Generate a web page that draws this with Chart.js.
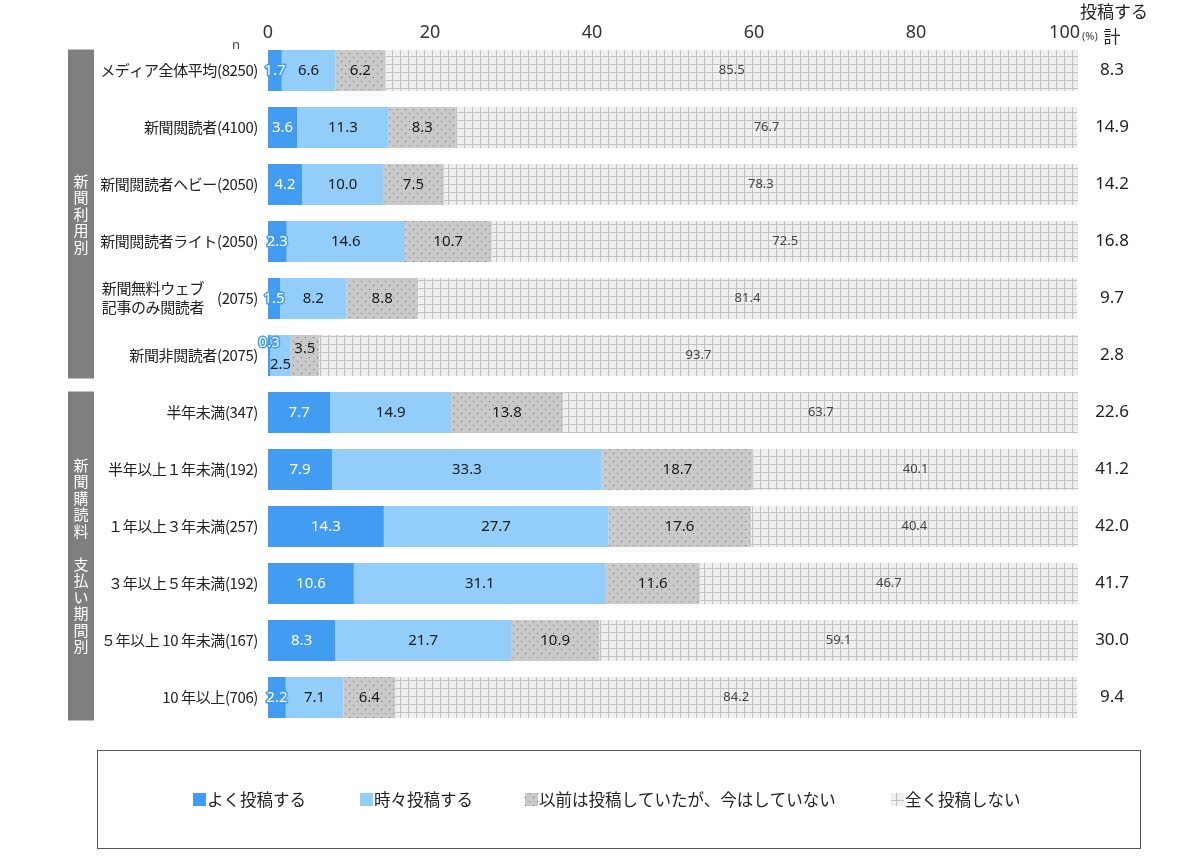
<!DOCTYPE html>
<html lang="ja">
<head>
<meta charset="UTF-8">
<title>投稿頻度</title>
<script src="https://cdn.jsdelivr.net/npm/chart.js@4.4.1/dist/chart.umd.min.js"></script>
<style>
  body { margin: 0; background: #fff; }
</style>
</head>
<body>
<canvas id="chart" width="1200" height="865"></canvas>
<script>
// rows (top to bottom)
const rowLabels = [
  'メディア全体平均', '新聞閲読者', '新聞閲読者ヘビー', '新聞閲読者ライト',
  ['新聞無料ウェブ', '記事のみ閲読者'], '新聞非閲読者',
  '半年未満', '半年以上１年未満', '１年以上３年未満', '３年以上５年未満',
  '５年以上 10 年未満', '10 年以上'
];
const rowN = [8250, 4100, 2050, 2050, 2075, 2075, 347, 192, 257, 192, 167, 706];

// series values (%)
const often     = [1.7, 3.6, 4.2, 2.3, 1.5, 0.3, 7.7, 7.9, 14.3, 10.6, 8.3, 2.2];
const sometimes = [6.6, 11.3, 10.0, 14.6, 8.2, 2.5, 14.9, 33.3, 27.7, 31.1, 21.7, 7.1];
const formerly  = [6.2, 8.3, 7.5, 10.7, 8.8, 3.5, 13.8, 18.7, 17.6, 11.6, 10.9, 6.4];
const never     = [85.5, 76.7, 78.3, 72.5, 81.4, 93.7, 63.7, 40.1, 40.4, 46.7, 59.1, 84.2];
const postTotal = ['8.3', '14.9', '14.2', '16.8', '9.7', '2.8', '22.6', '41.2', '42.0', '41.7', '30.0', '9.4'];

const seriesNames = ['よく投稿する', '時々投稿する', '以前は投稿していたが、今はしていない', '全く投稿しない'];
const xTicks = [0, 20, 40, 60, 80, 100];

// row groups for the grey side bars
const groupNames = ['新聞利用別', '新聞購読料　支払い期間別'];
const groupFirst = [0, 6];
const groupLast = [5, 11];

const JP = '"Noto Sans CJK JP", "Noto Sans", sans-serif';
const NUM = '"Noto Sans", "DejaVu Sans", sans-serif';

// fill patterns
function dotPattern() {
  const c = document.createElement('canvas');
  c.width = 8; c.height = 8;
  const g = c.getContext('2d');
  g.fillStyle = '#c9c9c9';
  g.fillRect(0, 0, 8, 8);
  g.fillStyle = '#707070';
  g.fillRect(1, 1, 1, 1);
  g.fillRect(5, 5, 1, 1);
  return g.createPattern(c, 'repeat');
}
function gridPattern() {
  const c = document.createElement('canvas');
  c.width = 8; c.height = 8;
  const g = c.getContext('2d');
  g.fillStyle = '#efefef';
  g.fillRect(0, 0, 8, 8);
  g.fillStyle = '#c2c2c2';
  g.fillRect(0, 0, 8, 1);
  g.fillRect(0, 0, 1, 8);
  return g.createPattern(c, 'repeat');
}

const fills = ['#429cf2', '#93cdfa', dotPattern(), gridPattern()];

// value labels inside the bars
const barLabels = {
  id: 'barLabels',
  afterDatasetsDraw(chart) {
    const ctx = chart.ctx;
    ctx.save();
    ctx.textAlign = 'center';
    ctx.textBaseline = 'middle';
    chart.data.datasets.forEach((ds, di) => {
      const meta = chart.getDatasetMeta(di);
      meta.data.forEach((bar, i) => {
        const v = ds.data[i];
        const p = bar.getProps(['x', 'y', 'base'], true);
        const cx = (p.x + p.base) / 2;
        let cy = p.y;
        // crowded row: stagger the tiny segments
        if (often[i] < 1) {
          if (di === 0) cy -= 13;
          if (di === 1) cy += 9;
          if (di === 2) cy -= 7;
        }
        const txt = v.toFixed(1);
        if (di === 0) {
          ctx.font = '15px ' + NUM;
          ctx.lineWidth = 3;
          ctx.strokeStyle = '#429cf2';
          ctx.lineJoin = 'round';
          ctx.strokeText(txt, cx, cy);
          ctx.fillStyle = '#ffffff';
        } else if (di === 3) {
          ctx.font = '13px ' + NUM;
          ctx.fillStyle = '#444444';
        } else {
          ctx.font = '15px ' + NUM;
          ctx.fillStyle = '#1a1a1a';
        }
        ctx.fillText(txt, cx, cy);
      });
    });
    ctx.restore();
  }
};

// row labels, totals, group bars, headers and legend
const decorations = {
  id: 'decorations',
  afterDraw(chart) {
    const ctx = chart.ctx;
    const y = chart.scales.y;
    const x = chart.scales.x;
    ctx.save();

    // x tick labels along the top
    ctx.fillStyle = '#333';
    ctx.textBaseline = 'middle';
    ctx.font = '18px ' + NUM;
    xTicks.forEach((v, k) => {
      const last = k === xTicks.length - 1;
      ctx.textAlign = last ? 'right' : 'center';
      ctx.fillText(String(v), x.getPixelForValue(v) + (last ? 2 : 0), 33);
    });
    ctx.textAlign = 'left';
    ctx.font = '11px ' + NUM;
    ctx.fillStyle = '#444';
    ctx.fillText('(%)', x.getPixelForValue(100) + 4, 37);

    // row labels
    ctx.fillStyle = '#222';
    ctx.font = '15px ' + JP;
    ctx.letterSpacing = '-0.4px';
    rowLabels.forEach((lab, i) => {
      const py = y.getPixelForValue(i);
      const n = '(' + rowN[i] + ')';
      ctx.textAlign = 'right';
      if (Array.isArray(lab)) {
        ctx.fillText(n, 258, py);
        ctx.fillText(lab[0], 204, py - 10);
        ctx.fillText(lab[1], 204, py + 9);
      } else {
        ctx.fillText(lab + n, 258, py);
      }
    });
    ctx.letterSpacing = '0px';

    // totals column
    ctx.textAlign = 'center';
    ctx.font = '17px ' + NUM;
    postTotal.forEach((t, i) => {
      ctx.fillText(t, 1112, y.getPixelForValue(i));
    });

    // headers
    ctx.font = '17px ' + JP;
    ctx.fillText('投稿する', 1114, 12);
    ctx.fillText('計', 1112, 37);
    ctx.font = '13px ' + NUM;
    ctx.fillStyle = '#444';
    ctx.fillText('n', 236, 45);

    // grey group bars with vertical text
    groupNames.forEach((name, g) => {
      const top = y.getPixelForValue(groupFirst[g]) - 21;
      const bottom = y.getPixelForValue(groupLast[g]) + 23;
      ctx.fillStyle = '#7f7f7f';
      ctx.fillRect(68, top, 26, bottom - top);
      ctx.fillStyle = '#ffffff';
      ctx.font = '15px ' + JP;
      ctx.textAlign = 'center';
      const chars = Array.from(name);
      const step = 16.5;
      const mid = (top + bottom) / 2;
      chars.forEach((ch, k) => {
        ctx.fillText(ch, 81, mid + (k - (chars.length - 1) / 2) * step);
      });
    });

    // legend
    ctx.strokeStyle = '#555';
    ctx.lineWidth = 1;
    ctx.strokeRect(97.5, 750.5, 1043, 98);
    const legendX = [193, 360, 525, 891];
    ctx.font = '16.5px ' + JP;
    ctx.textAlign = 'left';
    seriesNames.forEach((name, k) => {
      ctx.fillStyle = fills[k];
      ctx.fillRect(legendX[k], 793, 13, 13);
      ctx.fillStyle = '#222';
      ctx.fillText(name, legendX[k] + 14, 800);
    });

    ctx.restore();
  }
};

const chart = new Chart(document.getElementById('chart').getContext('2d'), {
  type: 'bar',
  data: {
    labels: rowLabels.map((l, i) => (Array.isArray(l) ? l.join('') : l) + '(' + rowN[i] + ')'),
    datasets: [often, sometimes, formerly, never].map((d, k) => ({
      label: seriesNames[k],
      data: d,
      backgroundColor: fills[k],
      borderWidth: 0,
      barPercentage: 0.72,
      categoryPercentage: 1.0
    }))
  },
  options: {
    indexAxis: 'y',
    responsive: false,
    animation: false,
    layout: { padding: { left: 268, right: 122, top: 12, bottom: 139 } },
    plugins: {
      legend: { display: false },
      tooltip: { enabled: false }
    },
    scales: {
      x: {
        position: 'top',
        stacked: true,
        min: 0,
        max: 100,
        afterBuildTicks: scale => { scale.ticks = xTicks.map(v => ({ value: v })); },
        afterFit: scale => { scale.height = 30; },
        grid: { display: false, drawTicks: false },
        border: { display: false },
        ticks: { display: false }
      },
      y: {
        stacked: true,
        display: false
      }
    }
  },
  plugins: [barLabels, decorations]
});
</script>
</body>
</html>
